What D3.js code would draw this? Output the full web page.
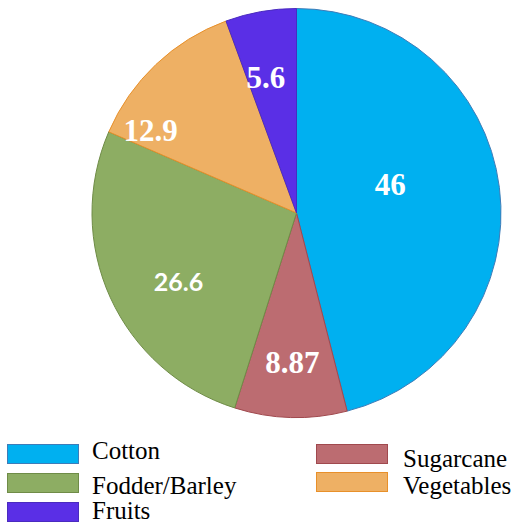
<!DOCTYPE html>
<html>
<head>
<meta charset="utf-8">
<script src="https://cdn.jsdelivr.net/npm/d3@7"></script>
<style>
  body { margin: 0; background: #fff; }
</style>
</head>
<body>
<div id="chart"></div>
<script>
// data
const crops = ["Cotton", "Sugarcane", "Fodder/Barley", "Vegetables", "Fruits"];
const shares = [46, 8.87, 26.6, 12.9, 5.6];
const fills = ["#00B0F0", "#BC6C71", "#8DAD63", "#EEB064", "#5A2FE6"];
const edges = ["#3E7CB8", "#A0494E", "#6F8C47", "#E8902A", "#4A2BBF"];

// label placement (fraction of radius, angle shift in degrees), fonts per label
const labelLayout = [[0.48, -10], [0.73, 0], [0.67, -6], [0.82, -17], [0.68, -2.6]];
const labelFonts = ["serif", "serif", "sans", "serif", "serif"];

const width = 522, height = 525;
const cx = 296.5, cy = 213, r = 204.5;

const svg = d3
  .select("#chart")
  .append("svg")
  .attr("width", width)
  .attr("height", height);

const g = svg.append("g").attr("transform", `translate(${cx},${cy})`);

const pie = d3.pie().sort(null).value((d) => d);
const arcs = pie(shares);
const arc = d3.arc().innerRadius(0).outerRadius(r);

g.selectAll("path")
  .data(arcs)
  .join("path")
  .attr("d", arc)
  .attr("fill", (d, i) => fills[i])
  .attr("stroke", (d, i) => edges[i])
  .attr("stroke-width", 1);

// slice labels
g.selectAll(".lbl")
  .data(arcs)
  .join("text")
  .attr("class", "lbl")
  .attr("transform", (d, i) => {
    const a = (d.startAngle + d.endAngle) / 2 + (labelLayout[i][1] * Math.PI) / 180;
    const rr = r * labelLayout[i][0];
    return `translate(${rr * Math.sin(a)},${-rr * Math.cos(a)})`;
  })
  .attr("text-anchor", "middle")
  .attr("dy", "0.35em")
  .attr("fill", "#fff")
  .style("font-weight", "bold")
  .style("font-family", (d, i) =>
    labelFonts[i] === "sans" ? "Lato, 'Open Sans', sans-serif" : "'Liberation Serif', 'Times New Roman', serif"
  )
  .style("font-size", (d, i) => (labelFonts[i] === "sans" ? "25px" : "31px"))
  .text((d) => d.data);

// legend
const legendSlots = [
  { x: 7, y: 444, tx: 92, ty: 459 },
  { x: 316, y: 444, tx: 403, ty: 467 },
  { x: 7, y: 473, tx: 92, ty: 494 },
  { x: 316, y: 472, tx: 403, ty: 494 },
  { x: 7, y: 502, tx: 92, ty: 519 },
];

const legend = svg
  .selectAll(".leg")
  .data(crops)
  .join("g")
  .attr("class", "leg");

legend
  .append("rect")
  .attr("x", (d, i) => legendSlots[i].x + 0.5)
  .attr("y", (d, i) => legendSlots[i].y + 0.5)
  .attr("width", 71)
  .attr("height", 19)
  .attr("fill", (d, i) => fills[i])
  .attr("stroke", (d, i) => edges[i])
  .attr("stroke-width", 1);

legend
  .append("text")
  .attr("x", (d, i) => legendSlots[i].tx)
  .attr("y", (d, i) => legendSlots[i].ty)
  .style("font-family", "'Liberation Serif', 'Times New Roman', serif")
  .style("font-size", "25px")
  .attr("fill", "#000")
  .text((d) => d);
</script>
</body>
</html>
